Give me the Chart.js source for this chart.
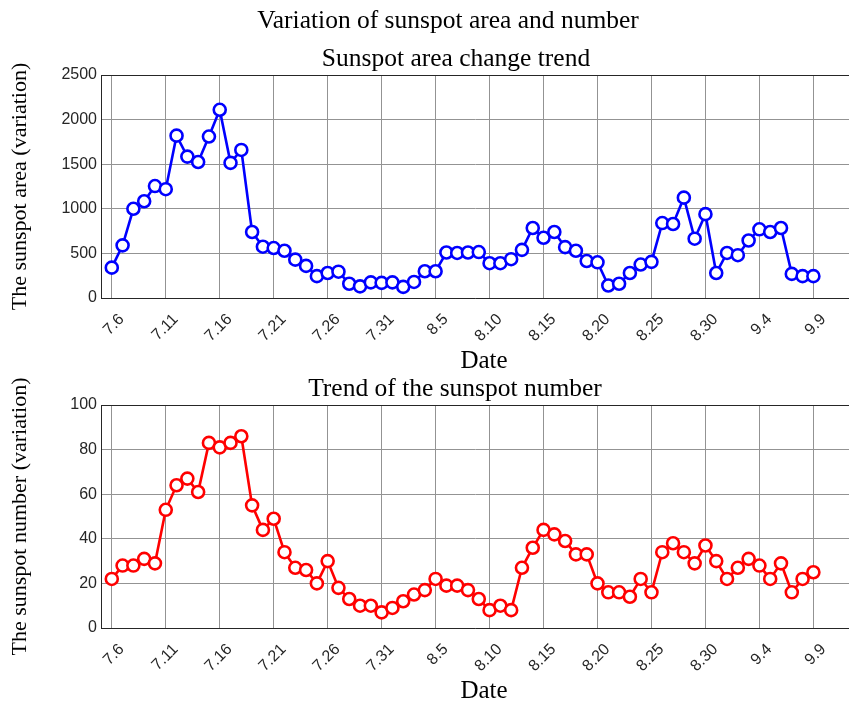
<!DOCTYPE html>
<html>
<head>
<meta charset="utf-8">
<script src="https://cdn.jsdelivr.net/npm/chart.js@4.4.0/dist/chart.umd.min.js"></script>
<style>
  html, body { margin: 0; padding: 0; background: #fff; overflow: hidden; }
  #wrap { position: relative; width: 849px; height: 702px; }
  canvas { position: absolute; left: 0; }
  #areaChart { top: 0; }
  #numberChart { top: 375px; }
</style>
</head>
<body>
<div id="wrap">
  <canvas id="areaChart" width="849" height="375"></canvas>
  <canvas id="numberChart" width="849" height="327"></canvas>
</div>
<script>
// 日付（7.6 〜 9.9）
const dates = [
  '7.6', '7.7', '7.8', '7.9', '7.10', '7.11', '7.12', '7.13', '7.14', '7.15',
  '7.16', '7.17', '7.18', '7.19', '7.20', '7.21', '7.22', '7.23', '7.24', '7.25',
  '7.26', '7.27', '7.28', '7.29', '7.30', '7.31', '8.1', '8.2', '8.3', '8.4',
  '8.5', '8.6', '8.7', '8.8', '8.9', '8.10', '8.11', '8.12', '8.13', '8.14',
  '8.15', '8.16', '8.17', '8.18', '8.19', '8.20', '8.21', '8.22', '8.23', '8.24',
  '8.25', '8.26', '8.27', '8.28', '8.29', '8.30', '8.31', '9.1', '9.2', '9.3',
  '9.4', '9.5', '9.6', '9.7', '9.8', '9.9'
];

// 黒点面積
const sunspotArea = [
  340, 590, 1000, 1085, 1255, 1220, 1820, 1585, 1525, 1810,
  2110, 1515, 1660, 740, 575, 560, 530, 430, 360, 245,
  280, 295, 160, 130, 175, 170, 175, 125, 180, 300,
  300, 510, 505, 510, 515, 390, 390, 435, 540, 785,
  675, 740, 570, 530, 415, 400, 140, 160, 280, 375,
  405, 840, 830, 1125, 665, 940, 280, 505, 480, 645,
  770, 740, 785, 270, 245, 245
];

// 黒点数
const sunspotNumber = [
  22, 28, 28, 31, 29, 53, 64, 67, 61, 83,
  81, 83, 86, 55, 44, 49, 34, 27, 26, 20,
  30, 18, 13, 10, 10, 7, 9, 12, 15, 17,
  22, 19, 19, 17, 13, 8, 10, 8, 27, 36,
  44, 42, 39, 33, 33, 20, 16, 16, 14, 22,
  16, 34, 38, 34, 29, 37, 30, 22, 27, 31,
  28, 22, 29, 16, 22, 25
];

// x軸目盛り（5日ごと）
const tickDates = ['7.6', '7.11', '7.16', '7.21', '7.26', '7.31', '8.5', '8.10', '8.15', '8.20', '8.25', '8.30', '9.4', '9.9'];
const areaTicks = [0, 500, 1000, 1500, 2000, 2500];
const numberTicks = [0, 20, 40, 60, 80, 100];

const SERIF = '"Liberation Serif", "Times New Roman", serif';
const SANS = '"Liberation Sans", Arial, sans-serif';
const GRID = '#939393';
const AXIS = '#262626';

// 上辺の枠線
const framePlugin = {
  id: 'frame',
  afterDraw(chart) {
    const { ctx, chartArea } = chart;
    ctx.save();
    ctx.strokeStyle = AXIS;
    ctx.lineWidth = 1;
    ctx.beginPath();
    ctx.moveTo(chartArea.left, chartArea.top + 0.5);
    ctx.lineTo(chartArea.right, chartArea.top + 0.5);
    ctx.stroke();
    ctx.restore();
  }
};

// タイトル・軸ラベル（MATLAB風の位置）
const textPlugin = {
  id: 'texts',
  afterDraw(chart, args, opts) {
    const ctx = chart.ctx;
    ctx.save();
    ctx.fillStyle = '#000';
    ctx.textAlign = 'center';
    ctx.textBaseline = 'middle';
    (opts.items || []).forEach(t => {
      ctx.font = t.size + 'px ' + SERIF;
      ctx.fillText(t.text, t.x, t.y);
    });
    ctx.restore();
  }
};

function makeChart(canvasId, cfg) {
  const tickIdx = tickDates.map(d => dates.indexOf(d));
  return new Chart(document.getElementById(canvasId), {
    type: 'line',
    data: {
      datasets: [{
        data: cfg.values.map((v, i) => ({ x: i, y: v })),
        borderColor: cfg.color,
        borderWidth: 2.6,
        pointRadius: 6,
        pointBorderWidth: 2.6,
        pointBorderColor: cfg.color,
        pointBackgroundColor: '#fff',
        tension: 0
      }]
    },
    options: {
      responsive: false,
      animation: false,
      layout: { autoPadding: false, padding: { top: cfg.top, left: 0, right: 0, bottom: 0 } },
      plugins: {
        legend: { display: false },
        tooltip: { enabled: false },
        title: { display: false },
        texts: { items: cfg.texts }
      },
      scales: {
        x: {
          type: 'linear',
          min: -1,
          max: 68.3,
          afterBuildTicks: s => { s.ticks = tickIdx.map(v => ({ value: v })); },
          afterFit: s => { s.height = cfg.xHeight; s.paddingLeft = 0; s.paddingRight = 0; },
          ticks: {
            autoSkip: false,
            minRotation: 45,
            maxRotation: 45,
            padding: 12,
            labelOffset: 10,
            color: AXIS,
            font: { family: SANS, size: 16 },
            callback: v => dates[v]
          },
          grid: { color: GRID, lineWidth: 1, drawTicks: false },
          border: { color: AXIS, width: 1 }
        },
        y: {
          min: cfg.yTicks[0],
          max: cfg.yTicks[cfg.yTicks.length - 1],
          afterBuildTicks: s => { s.ticks = cfg.yTicks.map(v => ({ value: v })); },
          afterFit: s => { s.width = 101; },
          ticks: {
            padding: 4,
            color: AXIS,
            font: { family: SANS, size: 16 },
            callback: v => String(v)
          },
          grid: { color: GRID, lineWidth: 1, drawTicks: false },
          border: { color: AXIS, width: 1 },
          title: {
            display: true,
            text: cfg.yTitle,
            color: '#000',
            font: { family: SERIF, size: 22, lineHeight: 1 },
            padding: { top: 9, bottom: 0 }
          }
        }
      }
    },
    plugins: [framePlugin, textPlugin]
  });
}

makeChart('areaChart', {
  values: sunspotArea,
  color: '#0000ff',
  yTicks: areaTicks,
  yTitle: 'The sunspot area (variation)',
  top: 75,
  xHeight: 77,
  texts: [
    { text: 'Variation of sunspot area and number', x: 448, y: 21, size: 25.5 },
    { text: 'Sunspot area change trend', x: 456, y: 59, size: 25.5 },
    { text: 'Date', x: 484, y: 361, size: 25 }
  ]
});

makeChart('numberChart', {
  values: sunspotNumber,
  color: '#ff0000',
  yTicks: numberTicks,
  yTitle: 'The sunspot number (variation)',
  top: 30,
  xHeight: 74,
  texts: [
    { text: 'Trend of the sunspot number', x: 455, y: 14, size: 25.5 },
    { text: 'Date', x: 484, y: 316, size: 25 }
  ]
});
</script>
</body>
</html>
